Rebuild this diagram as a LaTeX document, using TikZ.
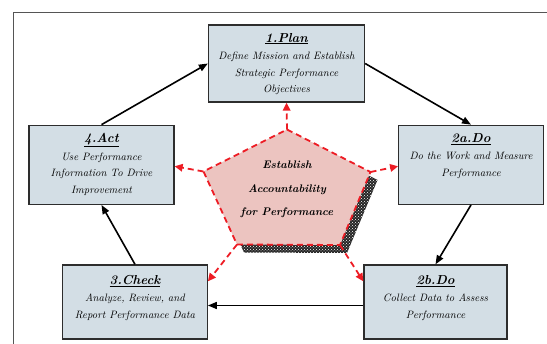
\documentclass[tikz,border=0pt]{standalone}
\usetikzlibrary{arrows.meta,calc,patterns}
\definecolor{boxfill}{RGB}{211,222,229}
\definecolor{pentfill}{RGB}{236,196,192}
\definecolor{dashred}{RGB}{237,28,36}
\definecolor{framegray}{RGB}{85,85,85}
\definecolor{boxline}{RGB}{45,45,45}
\newcommand\boxtitle[1]{{\fontsize{13}{15}\selectfont\bfseries\underline{#1}}\\[1pt]}
\begin{document}
\begin{tikzpicture}[x=1pt,y=-1pt,
  procbox/.style={draw=boxline, fill=boxfill, line width=1.3pt, inner sep=0pt},
  boxtext/.style={align=center, inner sep=0pt, font=\fontsize{10.7}{16.5}\selectfont\itshape},
  cycarrow/.style={line width=1.6pt, -{Triangle[length=9pt,width=7pt]}},
  redarrow/.style={dashred, line width=1.8pt, dash pattern=on 6pt off 4pt, -{Triangle[length=8pt,width=7.5pt]}},
  redline/.style={dashred, line width=1.8pt, dash pattern=on 6pt off 4pt},
  centertext/.style={align=center, inner sep=0pt, font=\fontsize{11}{23.5}\selectfont\bfseries\itshape}]
\useasboundingbox (0,0) rectangle (547,344);
\clip (0,0) rectangle (547,344);
\draw[framegray, line width=1.3pt] (13.5,12.5) rectangle (600,400);

% boxes
\node[procbox, minimum width=156pt, minimum height=77pt] (plan) at (286.5,63.5) {};
\node[procbox, minimum width=145pt, minimum height=79pt] (act) at (101.5,164.8) {};
\node[procbox, minimum width=144.5pt, minimum height=79pt] (doa) at (471,164.8) {};
\node[procbox, minimum width=144.5pt, minimum height=74pt] (check) at (135,302) {};
\node[procbox, minimum width=143pt, minimum height=74pt] (dob) at (435.5,302) {};

\node[boxtext, anchor=north] (plantxt) at ($(plan.north)+(0,8.5)$) {\boxtitle{1.Plan}Define Mission and Establish\\Strategic Performance\\Objectives};
\node[boxtext, anchor=north] (acttxt) at ($(act.north)+(0,8.5)$) {\boxtitle{4.Act}Use Performance\\Information To Drive\\Improvement};
\node[boxtext, anchor=north] (doatxt) at ($(doa.north)+(0,8.5)$) {\boxtitle{2a.Do}Do the Work and Measure\\Performance};
\node[boxtext, anchor=north] (checktxt) at ($(check.north)+(0,10.5)$) {\boxtitle{3.Check}Analyze, Review, and\\Report Performance Data};
\node[boxtext, anchor=north] (dobtxt) at ($(dob.north)+(0,10.5)$) {\boxtitle{2b.Do}Collect Data to Assess\\Performance};

% pentagon
\coordinate (pt) at (287,129.5);
\coordinate (pur) at (370.5,172);
\coordinate (plr) at (340,245);
\coordinate (pll) at (237,244.5);
\coordinate (pul) at (203.5,171.5);
\fill[black!85] ($(pt)+(7,8)$) -- ($(pur)+(7,8)$) -- ($(plr)+(7,8)$) -- ($(pll)+(7,8)$) -- ($(pul)+(7,8)$) -- cycle;
\fill[pattern=crosshatch dots, pattern color=white] ($(pt)+(7,8)$) -- ($(pur)+(7,8)$) -- ($(plr)+(7,8)$) -- ($(pll)+(7,8)$) -- ($(pul)+(7,8)$) -- cycle;
\fill[pentfill] (pt) -- (pur) -- (plr) -- (pll) -- (pul) -- cycle;
\draw[redline] (pt) -- (pur) -- (plr) -- (pll) -- (pul) -- cycle;
\node[centertext] (ctext) at (287,189.5) {Establish\\Accountability\\for Performance};

% red arrows
\draw[redarrow] (pt) -- (plan.south);
\draw[redarrow] (pul) -- ($(act.east)+(0,1.5)$);
\draw[redarrow] (pur) -- ($(doa.west)+(0,1.5)$);
\draw[redarrow] (pll) -- ($(check.north east)+(0,17)$);
\draw[redarrow] (plr) -- ($(dob.north west)+(0,17)$);

% cycle arrows
\draw[cycarrow] (act.north) -- (plan.west);
\draw[cycarrow] (plan.east) -- (doa.north);
\draw[cycarrow] (doa.south) -- (dob.north);
\draw[cycarrow] ($(dob.west)+(0,3.5)$) -- ($(check.east)+(0,3.5)$);
\draw[cycarrow] (check.north) -- (act.south);
\end{tikzpicture}
\end{document}
